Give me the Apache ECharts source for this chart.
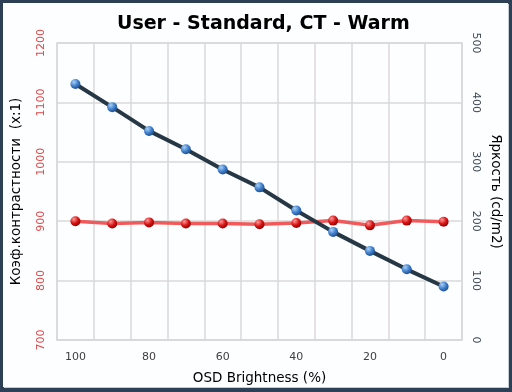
<!DOCTYPE html>
<html><head><meta charset="utf-8">
<script src="https://cdn.jsdelivr.net/npm/echarts@6/dist/echarts.min.js"></script>
<style>
html,body{margin:0;padding:0;background:#2d4055;width:512px;height:392px;overflow:hidden}
#frame{position:absolute;left:3px;top:3px;width:505px;height:384px;background:#fdfeff;box-shadow:1px 1px 0 #c5cbd2}
#chart{width:505px;height:384px}
</style></head>
<body><div id="frame"><div id="chart"></div></div>
<script>
const categories = ['100','90','80','70','60','50','40','30','20','10','0'];
const contrast = [900, 896, 898, 896, 896, 895, 897, 901, 893, 901, 899];
const brightness = [431, 392, 352, 321, 287, 257, 218, 182, 150, 119, 90];
const leftTicks = {min: 700, max: 1200, step: 100};
const rightTicks = {min: 0, max: 500, step: 100};

const font = 'DejaVu Sans';
const chart = echarts.init(document.getElementById('chart'));
function ball(c1, c2, c3){
  return {type:'radial', x:0.35, y:0.3, r:0.75, colorStops:[
    {offset:0, color:c1},{offset:0.55, color:c2},{offset:1, color:c3}]};
}
chart.setOption({
  animation:false,
  title:{text:'User - Standard, CT - Warm', left:109, top:7,
    textStyle:{fontFamily:font, fontWeight:'bold', fontSize:19, color:'#000'}},
  grid:{left:54, top:40, right:46, bottom:47, containLabel:false, outerBoundsMode:'none',
    show:true, borderColor:'#d9d9d9', borderWidth:1.5},
  xAxis:{type:'category', data:categories, boundaryGap:true,
    name:'OSD Brightness (%)', nameLocation:'middle', nameGap:31,
    nameTextStyle:{fontFamily:font, fontSize:13.5, color:'#000'},
    axisLine:{lineStyle:{color:'#d9d9d9', width:1.5}}, axisTick:{show:false},
    axisLabel:{interval:1, fontFamily:font, fontSize:11, color:'#404040', margin:12},
    splitLine:{show:true, interval:0, lineStyle:{color:'#d9d9d9', width:1.5}}},
  yAxis:[
    {type:'value', min:leftTicks.min, max:leftTicks.max, interval:leftTicks.step, position:'left',
     name:'Коэф.контрастности  (x:1)', nameLocation:'middle', nameGap:34, nameRotate:90,
     nameTextStyle:{fontFamily:font, fontSize:13.5, color:'#000'},
     axisLine:{show:false}, axisTick:{show:false},
     axisLabel:{rotate:90, fontFamily:font, fontSize:11, color:'#e04848', margin:10,
       formatter:function(v){return String(v);}},
     splitLine:{show:true, lineStyle:{color:'#d9d9d9', width:1.5}}},
    {type:'value', min:rightTicks.min, max:rightTicks.max, interval:rightTicks.step, position:'right',
     name:'Яркость (cd/m2)', nameLocation:'middle', nameGap:21, nameRotate:-90,
     nameTextStyle:{fontFamily:font, fontSize:13.5, color:'#000'},
     axisLine:{show:false}, axisTick:{show:false},
     axisLabel:{rotate:-90, fontFamily:font, fontSize:11, color:'#3c4654', margin:8,
       formatter:function(v){return String(v);}},
     splitLine:{show:false}}
  ],
  series:[
    {type:'line', yAxisIndex:0, data:contrast, symbol:'circle', symbolSize:10,
     lineStyle:{color:'#f05a5a', width:3.5},
     itemStyle:{color:ball('#ff9a9a','#d81414','#8c0000'), borderWidth:0}, z:2},
    {type:'line', yAxisIndex:1, data:brightness, symbol:'circle', symbolSize:10,
     lineStyle:{color:'#263745', width:4},
     itemStyle:{color:ball('#a8d0f8','#3f7fcc','#1d4a86'), borderWidth:0}, z:3}
  ]
});
</script></body></html>
